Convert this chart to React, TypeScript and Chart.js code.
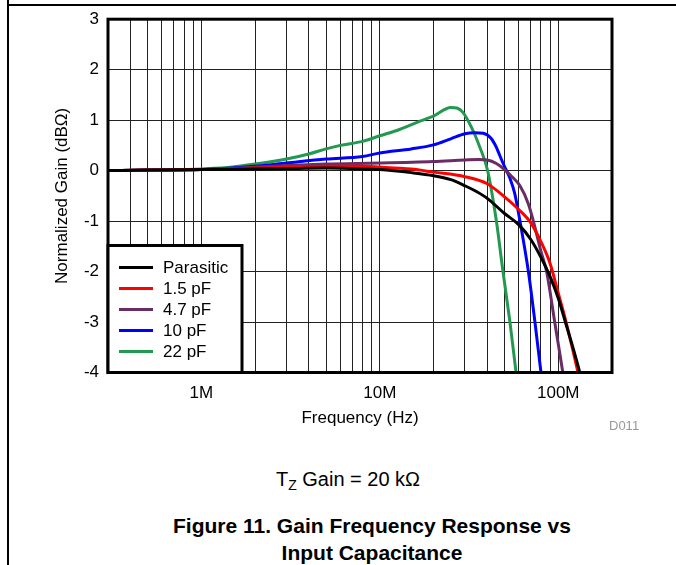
import React, { useEffect, useRef } from "react";
import { Chart, registerables } from "chart.js";

Chart.register(...registerables);

const MHZ = 1e6;

// Frequencies in MHz and normalized gains in dBΩ
const parasiticFreq = [0.3, 0.5, 1, 2, 3, 5, 7, 10, 15, 20, 25, 30, 35, 40, 50, 60, 70, 80, 90, 100, 110, 120, 132, 136];
const parasiticGain = [0, 0.01, 0.02, 0.03, 0.04, 0.05, 0.04, 0.02, -0.04, -0.1, -0.18, -0.3, -0.42, -0.55, -0.85, -1.07, -1.36, -1.72, -2.1, -2.53, -3.02, -3.47, -4.0, -4.2];

const c15Freq = [0.3, 0.5, 1, 2, 3, 5, 8, 10, 15, 20, 30, 40, 50, 60, 70, 80, 90, 100, 110, 120, 129, 133];
const c15Gain = [0, 0.01, 0.02, 0.05, 0.07, 0.085, 0.085, 0.07, 0.03, -0.03, -0.12, -0.26, -0.52, -0.77, -1.03, -1.41, -1.84, -2.43, -2.97, -3.52, -4.0, -4.2];

const c47Freq = [0.3, 0.5, 1, 2, 3, 5, 10, 20, 30, 36, 40, 45, 50, 55, 61, 68, 72.5, 80, 86, 95.5, 106, 109];
const c47Gain = [0, 0.01, 0.02, 0.066, 0.1, 0.13, 0.15, 0.18, 0.21, 0.22, 0.21, 0.14, 0.02, -0.12, -0.3, -0.66, -1.0, -1.6, -2.0, -3.0, -4.0, -4.3];

const c10Freq = [0.3, 0.5, 1, 2, 3, 5, 8, 10, 15, 20, 25, 30, 34, 38, 42, 45, 47, 50, 53.6, 57, 61, 68, 74, 80, 82];
const c10Gain = [0, 0.01, 0.02, 0.085, 0.15, 0.23, 0.28, 0.35, 0.43, 0.51, 0.63, 0.73, 0.75, 0.74, 0.64, 0.46, 0.3, 0.08, -0.15, -0.45, -1.0, -2.0, -3.0, -4.0, -4.3];

const c22Freq = [0.3, 0.5, 0.7, 1, 1.5, 2, 3, 4, 5, 6, 8, 10, 13, 16.8, 20, 25, 27, 29.3, 32.7, 36.4, 40.2, 45, 49, 53.6, 58, 60];
const c22Gain = [0, 0.005, 0.01, 0.03, 0.07, 0.13, 0.23, 0.33, 0.43, 0.5, 0.58, 0.69, 0.82, 0.98, 1.08, 1.25, 1.24, 1.15, 0.85, 0.46, 0.0, -1.0, -2.0, -3.0, -4.0, -4.4];

const seriesLabels = ["Parasitic", "1.5 pF", "4.7 pF", "10 pF", "22 pF"];
const seriesColors = ["#000000", "#ff0000", "#6a2c64", "#0000ff", "#22994f"];
const seriesFreqs = [parasiticFreq, c15Freq, c47Freq, c10Freq, c22Freq];
const seriesGains = [parasiticGain, c15Gain, c47Gain, c10Gain, c22Gain];

const gridFreq = [0.4, 0.5, 0.6, 0.7, 0.8, 0.9, 1, 2, 3, 4, 5, 6, 7, 8, 9, 10, 20, 30, 40, 50, 60, 70, 80, 90, 100];
const labeledFreq = [1, 10, 100];
const freqTickLabels = ["1M", "10M", "100M"];
const gainTicks = [-4, -3, -2, -1, 0, 1, 2, 3];

const FONT = "'Liberation Sans', Arial, Helvetica, sans-serif";

const framePlugin = {
  id: "frameAndLegend",
  afterDraw(chart: any) {
    const ctx = chart.ctx;
    const a = chart.chartArea;
    ctx.save();
    ctx.lineWidth = 3;
    ctx.strokeStyle = "#000";
    ctx.strokeRect(a.left, a.top, a.right - a.left, a.bottom - a.top);

    // legend box in lower-left of the plot
    const bw = 134;
    const bh = 127;
    const bx = a.left;
    const by = a.bottom - bh;
    ctx.fillStyle = "#fff";
    ctx.fillRect(bx, by, bw, bh);
    ctx.strokeRect(bx, by, bw, bh);
    ctx.font = `17px ${FONT}`;
    ctx.textBaseline = "middle";
    ctx.textAlign = "left";
    chart.data.datasets.forEach((ds: any, i: number) => {
      const y = by + 22 + i * 21;
      ctx.strokeStyle = ds.borderColor;
      ctx.lineWidth = 3;
      ctx.beginPath();
      ctx.moveTo(bx + 11, y);
      ctx.lineTo(bx + 45, y);
      ctx.stroke();
      ctx.fillStyle = "#000";
      ctx.fillText(ds.label, bx + 55, y + 1);
    });
    ctx.restore();
  },
};

export default function App() {
  const ref = useRef<HTMLCanvasElement>(null);

  useEffect(() => {
    if (!ref.current) return;
    const datasets = seriesLabels.map((label, i) => ({
      label,
      data: seriesFreqs[i].map((f, j) => ({ x: f * MHZ, y: seriesGains[i][j] })),
      borderColor: seriesColors[i],
      backgroundColor: seriesColors[i],
      borderWidth: 3,
      pointRadius: 0,
      cubicInterpolationMode: "monotone" as const,
      fill: false,
    }));

    const chart = new Chart(ref.current, {
      type: "line",
      data: { datasets },
      options: {
        animation: false,
        responsive: false,
        devicePixelRatio: 1,
        layout: { padding: { left: 0, right: 64, top: 17.5, bottom: 17.5 } },
        plugins: { legend: { display: false }, tooltip: { enabled: false } },
        scales: {
          x: {
            type: "logarithmic",
            min: 3e5,
            max: 2e8,
            afterBuildTicks: (s: any) => {
              s.ticks = gridFreq.map((v) => ({ value: v * MHZ }));
            },
            afterFit: (s: any) => {
              s.height = 60;
            },
            grid: { color: "#222", lineWidth: 1, drawTicks: false },
            border: { display: false },
            ticks: {
              autoSkip: false,
              maxRotation: 0,
              minRotation: 0,
              padding: 11,
              color: "#000",
              font: { family: FONT, size: 17 },
              callback: (v: any) => {
                const idx = labeledFreq.findIndex((l) => Math.abs(l * MHZ - Number(v)) < 1);
                return idx >= 0 ? freqTickLabels[idx] : "";
              },
            },
            title: {
              display: true,
              text: "Frequency (Hz)",
              color: "#000",
              font: { family: FONT, size: 17 },
              padding: { top: 0, bottom: 4 },
            },
          },
          y: {
            min: -4,
            max: 3,
            afterBuildTicks: (s: any) => {
              s.ticks = gainTicks.map((v) => ({ value: v }));
            },
            afterFit: (s: any) => {
              s.width = 108;
            },
            grid: { color: "#222", lineWidth: 1, drawTicks: false },
            border: { display: false },
            ticks: {
              padding: 9,
              color: "#000",
              font: { family: FONT, size: 17 },
              callback: (v: any) => String(v),
            },
            title: {
              display: true,
              text: "Normalized Gain (dBΩ)",
              color: "#000",
              font: { family: FONT, size: 17 },
              padding: { top: 52, bottom: 0 },
            },
          },
        },
      },
      plugins: [framePlugin],
    } as any);
    return () => chart.destroy();
  }, []);

  return (
    <div style={{ position: "absolute", left: 0, top: 0, width: 676, height: 565, background: "#fff", fontFamily: FONT, overflow: "hidden" }}>
      <div style={{ position: "absolute", left: 7, top: 4, right: 0, height: 2, background: "#000" }} />
      <div style={{ position: "absolute", left: 7, top: 0, width: 2, bottom: 0, background: "#000" }} />
      <canvas ref={ref} width={676} height={450} style={{ position: "absolute", left: 0, top: 0, width: 676, height: 450 }} />
      <div style={{ position: "absolute", left: 609, top: 418, fontSize: 13, color: "#999" }}>D011</div>
      <div style={{ position: "absolute", left: 0, width: 696, top: 468, textAlign: "center", fontSize: 20, color: "#000", whiteSpace: "nowrap" }}>
        T<sub style={{ fontSize: 14, verticalAlign: "-4px" }}>Z</sub> Gain = 20 kΩ
      </div>
      <div style={{ position: "absolute", left: 0, width: 744, top: 512, textAlign: "center", fontSize: 21, fontWeight: "bold", lineHeight: "27px", color: "#000" }}>
        Figure 11. Gain Frequency Response vs
        <br />
        Input Capacitance
      </div>
    </div>
  );
}
